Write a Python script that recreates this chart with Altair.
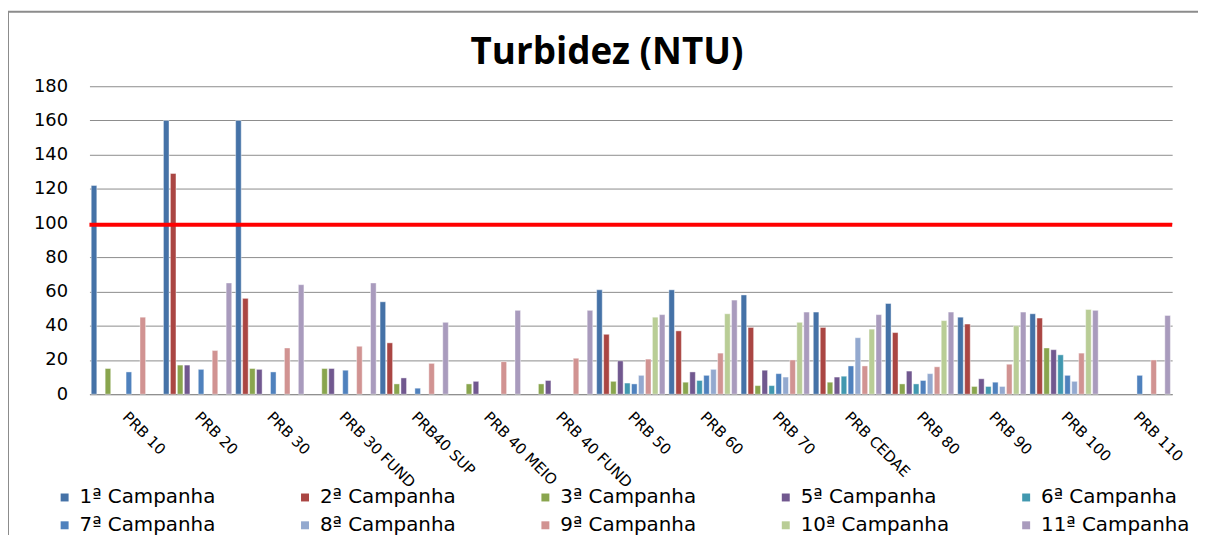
import altair as alt
import pandas as pd

locais = ["PRB 10", "PRB 20", "PRB 30", "PRB 30 FUND", "PRB40 SUP", "PRB 40 MEIO",
          "PRB 40 FUND", "PRB 50", "PRB 60", "PRB 70", "PRB CEDAE", "PRB 80",
          "PRB 90", "PRB 100", "PRB 110"]

campanhas = ["1ª Campanha", "2ª Campanha", "3ª Campanha", "5ª Campanha", "6ª Campanha",
             "7ª Campanha", "8ª Campanha", "9ª Campanha", "10ª Campanha", "11ª Campanha"]

c1 = [122, 160, 160, None, 54, None, None, 61, 61, 58, 48, 53, 45, 47, None]
c2 = [None, 129, 56, None, 30, None, None, 35, 37, 39, 39, 36, 41, 44.5, None]
c3 = [15, 17, 15, 15, 6, 6, 6, 7.5, 7, 5, 7, 6, 4.5, 27, None]
c5 = [None, 17, 14.5, 15, 9.5, 7.5, 8, 19.5, 13, 14, 10, 13.5, 9, 26, None]
c6 = [None, None, None, None, None, None, None, 6.5, 8, 5, 10.5, 6, 4.5, 23, None]
c7 = [13, 14.5, 13, 14, 3.5, None, None, 6, 11, 12, 16.5, 8, 7, 11, 11]
c8 = [None, None, None, None, None, None, None, 11, 14.5, 10, 33, 12, 4.5, 7.5, None]
c9 = [45, 25.5, 27, 28, 18, 19, 21, 20.5, 24, 20, 16.5, 16, 17.5, 24, 20]
c10 = [None, None, None, None, None, None, None, 45, 47, 42, 38, 43, 40, 49.5, None]
c11 = [None, 65, 64, 65, 42, 49, 49, 46.5, 55, 48, 46.5, 48, 48, 49, 46]

series = [c1, c2, c3, c5, c6, c7, c8, c9, c10, c11]

cores = ["#4572A7", "#AA4643", "#89A54E", "#71588F", "#4198AF",
         "#4F81BD", "#93A9CF", "#D19392", "#B9CD96", "#A99BBD"]

limite = [99]
y_ticks = list(range(0, 181, 20))

rows = []
for camp, vals in zip(campanhas, series):
    for loc, v in zip(locais, vals):
        if v is not None:
            rows.append({"local": loc, "campanha": camp, "valor": v})
df = pd.DataFrame(rows)

FONT = "DejaVu Sans"

y_scale = alt.Scale(domain=[0, 180], nice=False)
y_axis = alt.Axis(title=None, values=y_ticks, ticks=False, domain=False,
                  labelOverlap=False, labelFlush=False,
                  labelPadding=22, labelFontSize=18, labelFont=FONT,
                  labelColor="#000000", grid=True, gridColor="#8c8c8c")

bars = alt.Chart(df).mark_bar(stroke="white", strokeWidth=0.6, strokeOpacity=0.7).encode(
    x=alt.X("local:N", sort=locais,
            scale=alt.Scale(domain=locais, paddingInner=0.035, paddingOuter=0.015),
            axis=alt.Axis(title=None, labelAngle=45, labelAlign="left", labelBaseline="middle",
                          labelPadding=20, ticks=False, domain=True, domainColor="#8c8c8c",
                          labelFontSize=15, labelFont=FONT, labelColor="#000000", grid=False)),
    xOffset=alt.XOffset("campanha:N", sort=campanhas,
                        scale=alt.Scale(domain=campanhas, paddingInner=0.2, paddingOuter=0.1)),
    y=alt.Y("valor:Q", scale=y_scale, axis=y_axis),
    color=alt.Color("campanha:N", sort=campanhas,
                    scale=alt.Scale(domain=campanhas, range=cores),
                    legend=alt.Legend(title=None, orient="none", legendX=-35, legendY=404,
                                      direction="horizontal", columns=5, gridAlign="all",
                                      columnPadding=67, rowPadding=8,
                                      symbolType="square", symbolSize=64, symbolStrokeWidth=0,
                                      labelFontSize=20, labelFont=FONT, labelColor="#000000",
                                      labelOffset=5, labelLimit=300))
)

linha = alt.Chart(pd.DataFrame({"valor": limite})).mark_rule(color="#FF0000", strokeWidth=4).encode(
    y=alt.Y("valor:Q", scale=y_scale, axis=y_axis)
)

frame = alt.Chart(pd.DataFrame({"a": [0]})).mark_rect(
    fill=None, stroke="#8c8c8c", strokeWidth=2
).encode(x=alt.value(-82), x2=alt.value(1200), y=alt.value(-75), y2=alt.value(600))

chart = alt.layer(frame, bars, linha).properties(
    width=1090, height=310,
    title=alt.TitleParams("Turbidez (NTU)", font="Open Sans", fontSize=37, fontWeight="bold",
                          color="#000000", anchor="middle", dx=-24, offset=-62),
    autosize=alt.AutoSizeParams(type="none"),
    padding={"left": 82, "top": 77, "right": 26, "bottom": 140},
).configure_view(stroke=None)

chart.save("out.html", embed_options={"renderer": "svg", "actions": False})
